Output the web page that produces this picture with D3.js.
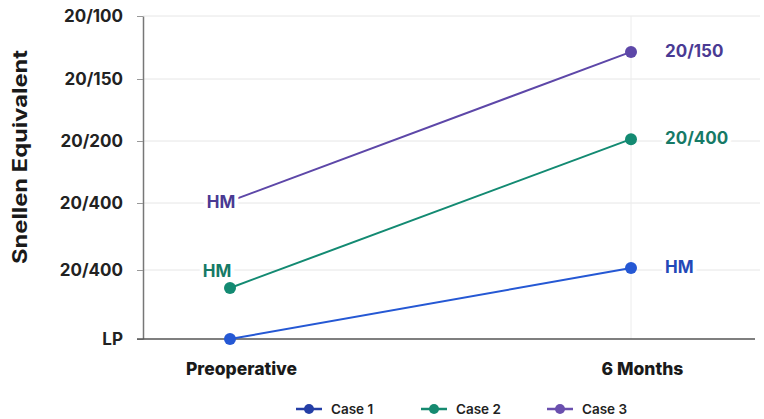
<!DOCTYPE html>
<html>
<head>
<meta charset="utf-8">
<script src="https://cdn.jsdelivr.net/npm/d3@7"></script>
<style>
  body { margin: 0; background: #fff; }
  text { font-family: Inter, "Open Sans", sans-serif; }
</style>
</head>
<body>
<svg width="764" height="419"></svg>
<script>
var timepoints = ["Preoperative", "6 Months"];
var yTickLabels = ["LP", "20/400", "20/400", "20/200", "20/150", "20/100"];
var seriesNames = ["Case 1", "Case 2", "Case 3"];
var case1 = [0, 1.03];
var case2 = [0.74, 3.03];
var case3 = [2.03, 4.43];
var case1Labels = ["", "HM"];
var case2Labels = ["HM", "20/400"];
var case3Labels = ["HM", "20/150"];
var colors = ["#2558d4", "#138a72", "#5d47a8"];
var labelColors = ["#2348b8", "#167a66", "#4a3a93"];
var legendColors = ["#243ea6", "#168a70", "#6a4fae"];

var series = [
    { name: seriesNames[0], values: case1, labels: case1Labels },
    { name: seriesNames[1], values: case2, labels: case2Labels },
    { name: seriesNames[2], values: case3, labels: case3Labels }
];

var svg = d3.select("svg"),
    width = +svg.attr("width"),
    height = +svg.attr("height");

var x = d3.scalePoint().domain(timepoints).range([230, 631]);
// category ticks are not evenly spaced in the source
var y = d3.scaleLinear().domain([0, 1, 2, 3, 4, 5]).range([339, 270, 203, 141, 79, 16]);
var plotLeft = 143, plotRight = 760;

// grid
svg.append("g")
    .selectAll("line")
    .data(d3.range(1, 6))
    .enter().append("line")
    .attr("x1", plotLeft).attr("x2", plotRight)
    .attr("y1", function (d) { return y(d); })
    .attr("y2", function (d) { return y(d); })
    .attr("stroke", "#e6e6e6").attr("stroke-width", 1);

svg.append("line")
    .attr("x1", x("6 Months")).attr("x2", x("6 Months"))
    .attr("y1", y(5)).attr("y2", y(0))
    .attr("stroke", "#ececec");

// y axis
var yAxis = svg.append("g")
    .attr("transform", "translate(" + plotLeft + ",0)")
    .call(d3.axisLeft(y).tickValues(d3.range(0, 6))
        .tickFormat(function (d) { return yTickLabels[d]; })
        .tickSize(6).tickSizeOuter(0).tickPadding(14));
yAxis.select(".domain").attr("stroke", "#777").attr("stroke-width", 1.5);
yAxis.selectAll(".tick line").attr("stroke", "#999");
yAxis.selectAll("text")
    .attr("font-size", 17).attr("font-weight", 700).attr("fill", "#222");

// x axis
var xAxis = svg.append("g")
    .attr("transform", "translate(0," + y(0) + ")")
    .call(d3.axisBottom(x).tickSize(0).tickPadding(24));
xAxis.select(".domain").attr("d", "M" + (plotLeft - 6) + ",0H" + (plotRight - 5))
    .attr("stroke", "#555").attr("stroke-width", 1.5);
xAxis.selectAll("text")
    .attr("dx", 11)
    .attr("font-size", 17.5).attr("font-weight", 800).attr("fill", "#1a1a1a");

svg.append("text")
    .attr("transform", "translate(27,157) rotate(-90)")
    .attr("text-anchor", "middle")
    .attr("font-family", "Liberation Sans, Arial, sans-serif")
    .attr("font-size", 20).attr("font-weight", 700).attr("fill", "#1a1a1a")
    .attr("textLength", 214).attr("lengthAdjust", "spacingAndGlyphs")
    .text("Snellen Equivalent");

var line = d3.line()
    .x(function (d, i) { return x(timepoints[i]); })
    .y(function (d) { return y(d); });

series.forEach(function (s, k) {
    svg.append("path")
        .datum(s.values)
        .attr("fill", "none")
        .attr("stroke", colors[k])
        .attr("stroke-width", 2)
        .attr("d", line);
    svg.append("g").selectAll("circle")
        .data(s.values)
        .enter().append("circle")
        .attr("cx", function (d, i) { return x(timepoints[i]); })
        .attr("cy", function (d) { return y(d); })
        .attr("r", 6)
        .attr("fill", colors[k]);
});

// point labels
function addLabel(txt, cx, cy, color, anchor) {
    svg.append("text")
        .attr("x", cx).attr("y", cy)
        .attr("text-anchor", anchor)
        .attr("dominant-baseline", "central")
        .attr("font-size", 17).attr("font-weight", 700)
        .attr("fill", color)
        .attr("stroke", "#fff").attr("stroke-width", 8)
        .attr("paint-order", "stroke")
        .attr("stroke-linejoin", "round")
        .text(txt);
}
// 6 Months labels on right
series.forEach(function (s, k) {
    addLabel(s.labels[1], x("6 Months") + 34, y(s.values[1]) - 1, labelColors[k], "start");
});
// preop labels
addLabel(case3Labels[0], x("Preoperative") - 9, y(case3[0]) + 1, labelColors[2], "middle");
addLabel(case2Labels[0], x("Preoperative") - 13, y(case2[0]) - 17, labelColors[1], "middle");

// legend
var legend = svg.append("g").attr("transform", "translate(0,409)");
var legendX = [296, 421, 547];
seriesNames.forEach(function (n, k) {
    var g = legend.append("g").attr("transform", "translate(" + legendX[k] + ",0)");
    g.append("line").attr("x1", 0).attr("x2", 26).attr("stroke", legendColors[k]).attr("stroke-width", 2.5);
    g.append("circle").attr("cx", 13).attr("r", 5).attr("fill", legendColors[k]);
    g.append("text").attr("x", 35).attr("dominant-baseline", "central")
        .attr("font-size", 13.5).attr("font-weight", 600).attr("fill", "#222").text(n);
});
</script>
</body>
</html>
